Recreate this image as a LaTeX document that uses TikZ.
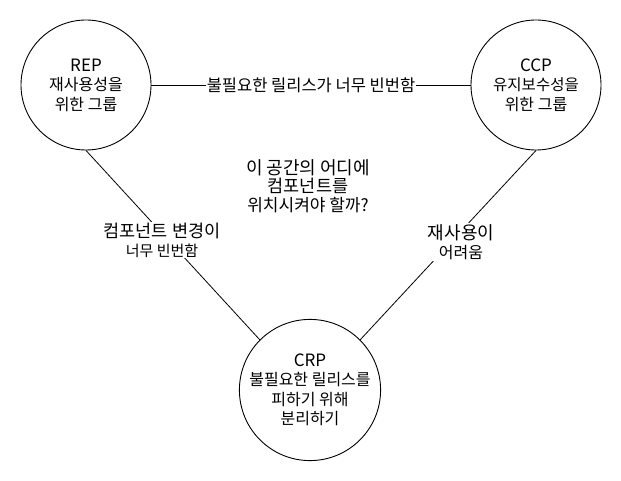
\documentclass[tikz,border=0pt]{standalone}
\usepackage{fontspec}
\setmainfont{Noto Sans CJK KR}
\begin{document}
\begin{tikzpicture}[x=1pt,y=-1pt,
  grp/.style={draw=black,line width=0.9pt,circle,minimum size=#1,inner sep=0pt,align=center,font=\fontsize{16}{19.5}\selectfont},
  conn/.style={draw=black,line width=0.8pt},
  lbl/.style={fill=white,inner sep=1pt,align=center,font=\fontsize{16.5}{19}\selectfont}]
\useasboundingbox (0,0) rectangle (621,481);
\node[grp=130pt] (rep) at (86,85) {{\fontsize{17}{20}\selectfont REP}\\재사용성을\\위한 그룹};
\node[grp=130pt] (ccp) at (536,85) {{\fontsize{17}{20}\selectfont CCP}\\{\fontsize{15.5}{19.5}\selectfont 유지보수성을}\\위한 그룹};
\node[grp=140pt] (crp) at (310,390) {{\fontsize{17}{20}\selectfont CRP}\\불필요한 릴리스를\\피하기 위해\\분리하기};
\draw[conn] (rep.east) -- node[lbl] (l1) {불필요한 릴리스가 너무 빈번함} (ccp.west);
\draw[conn] (rep.south) -- (crp.north west);
\draw[conn] (ccp.south) -- (crp.north east);
\node[lbl] (l2) at (162,240) {{\fontsize{17.5}{19}\selectfont 컴포넌트 변경이}\\{\fontsize{15}{19}\selectfont 너무 빈번함}};
\node[lbl] (l3) at (461,242) {{\fontsize{18}{19}\selectfont 재사용이}\\{\fontsize{16}{18}\selectfont 어려움}};
\node[align=center,font=\fontsize{17.5}{18.5}\selectfont] (q) at (308,186) {{\fontsize{18}{18.5}\selectfont 이 공간의 어디에}\\컴포넌트를\\{\fontsize{17}{18.5}\selectfont 위치시켜야 할까?}};
\end{tikzpicture}
\end{document}
